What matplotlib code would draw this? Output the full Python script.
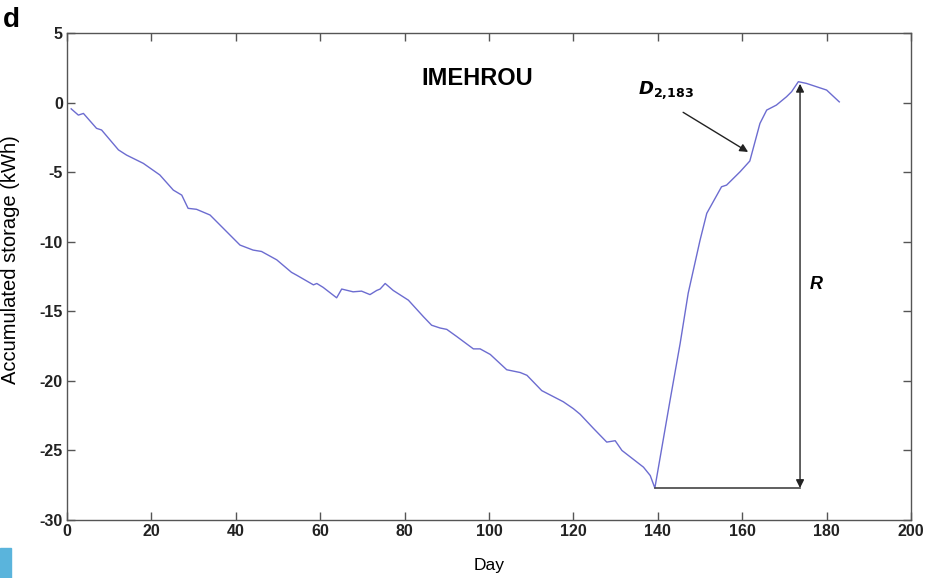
import matplotlib
matplotlib.use('Agg')
import matplotlib.pyplot as plt
from matplotlib.patches import Rectangle

plt.rcParams['font.family'] = ['Liberation Sans', 'DejaVu Sans']
plt.rcParams['axes.unicode_minus'] = False

# accumulated storage
day = [1, 2.7, 3.9, 7, 8.2, 12.2, 14.1, 18.1, 22, 25.2, 27.2, 28.7, 30.7, 33.9,
       41, 44.1, 46.1, 49.7, 53.2, 54.4, 58.4, 59.2, 60.7, 63.9, 65.1, 67.8,
       69.8, 71.8, 73.4, 74.2, 75.4, 77.3, 80.9, 84.5, 86.4, 88.4, 90, 92.3,
       96.3, 97.9, 100.3, 104.2, 107.4, 109, 112.5, 117.6, 120, 121.6, 124.7,
       127.9, 129.9, 131.5, 136.6, 138.2, 139.3, 140.9, 142.9, 145.3, 147.2,
       150, 151.6, 155.1, 156.3, 159.5, 161.8, 164.2, 165.8, 168.1, 170.5,
       171.7, 173.3, 175.2, 180, 183]
storage = [-0.45, -0.9, -0.78, -1.85, -1.97, -3.4, -3.77, -4.37, -5.2, -6.29,
           -6.65, -7.6, -7.67, -8.08, -10.24, -10.6, -10.7, -11.3, -12.2, -12.4,
           -13.1, -13.0, -13.28, -14.03, -13.4, -13.6, -13.55, -13.8, -13.5,
           -13.4, -13.0, -13.5, -14.2, -15.4, -16.0, -16.2, -16.3, -16.8, -17.7,
           -17.7, -18.1, -19.2, -19.4, -19.6, -20.7, -21.5, -22.0, -22.4, -23.4,
           -24.4, -24.3, -25.0, -26.2, -26.8, -27.7, -24.9, -21.4, -17.3, -13.7,
           -9.9, -7.96, -6.05, -5.93, -4.97, -4.2, -1.5, -0.54, -0.18, 0.42,
           0.78, 1.5, 1.38, 0.9, 0.05]

xticks = [0, 20, 40, 60, 80, 100, 120, 140, 160, 180, 200]
yticks = [-30, -25, -20, -15, -10, -5, 0, 5]

min_day, min_val = 139.3, -27.7
r_day, r_top = 173.7, 1.35

fig = plt.figure(figsize=(9.34, 5.78), dpi=100)
ax = fig.add_axes([0.0717, 0.1003, 0.9037, 0.8426])

ax.plot(day, storage, color='#6c6cd0', lw=1.0)

# R arrow and baseline
ax.plot([min_day, r_day], [min_val, min_val], color='#444444', lw=1.2)
ax.annotate('', xy=(r_day, r_top), xytext=(r_day, min_val),
            arrowprops=dict(arrowstyle='<|-|>', color='#222222', lw=1.0,
                            mutation_scale=12, shrinkA=0, shrinkB=0))
ax.text(177.5, -13.1, 'R', fontsize=13, fontweight='bold', style='italic',
        ha='center', va='center')

# D label
ax.annotate('', xy=(161.4, -3.55), xytext=(146, -0.7),
            arrowprops=dict(arrowstyle='-|>', color='#222222', lw=1.0,
                            mutation_scale=12, shrinkA=0, shrinkB=0))
ax.text(135.3, 0.9, r'$\mathbfit{D}_{\mathbf{2{,}183}}$', fontsize=13,
        ha='left', va='center')

ax.text(97.2, 1.7, 'IMEHROU', fontsize=17, fontweight='bold',
        ha='center', va='center')

ax.set_xlim(0, 200)
ax.set_ylim(-30, 5)
ax.set_xticks(xticks)
ax.set_yticks(yticks)
ax.tick_params(direction='in', top=True, right=True, length=6, width=1,
               color='#555555', labelsize=11.5, pad=3)
for lab in ax.get_xticklabels() + ax.get_yticklabels():
    lab.set_fontweight('bold')
    lab.set_color('#222222')
for sp in ax.spines.values():
    sp.set_color('#555555')
    sp.set_linewidth(1.0)

ax.set_xlabel('Day', fontsize=12.5)
ax.xaxis.set_label_coords(0.5, -0.078)
ax.set_ylabel('Accumulated storage (kWh)', fontsize=14.5)
ax.yaxis.set_label_coords(-0.056, 0.535)

fig.text(0.003, 0.965, 'd', fontsize=20, fontweight='bold', va='center')
fig.patches.append(Rectangle((0, 0), 0.012, 0.052, transform=fig.transFigure,
                             color='#5ab4dc', zorder=0))

fig.savefig('out.png', dpi=100)
